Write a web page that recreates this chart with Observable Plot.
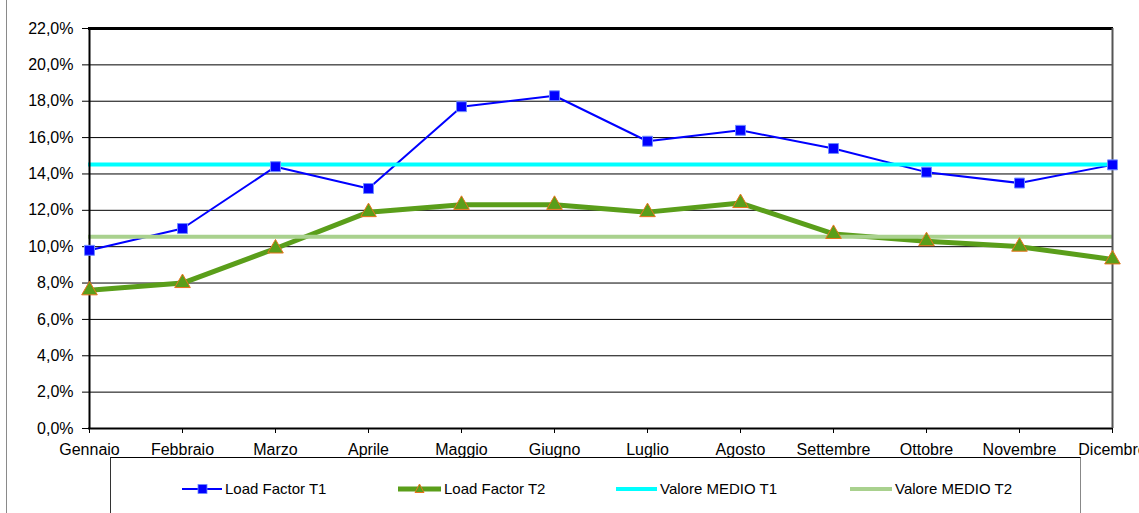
<!DOCTYPE html>
<html>
<head>
<meta charset="utf-8">
<script src="https://cdn.jsdelivr.net/npm/d3@7"></script>
<script src="https://cdn.jsdelivr.net/npm/@observablehq/plot@0.6"></script>
<style>
  html, body { margin: 0; padding: 0; background: #fff; overflow: hidden; }
  body { width: 1139px; height: 513px; position: relative; font-family: "Liberation Sans", Arial, sans-serif; }
  #outer-line { position: absolute; left: 6px; top: 0; width: 1px; height: 513px; background: #8a8a8a; }
  #chart { position: absolute; left: 0; top: 0; }
  #legend { position: absolute; left: 110px; top: 457px; width: 969px; height: 80px;
            border-top: 1px solid #000; border-left: 1px solid #333; border-right: 1px solid #888; }
  .item { position: absolute; top: 22px; height: 17px; display: flex; align-items: center;
          font-size: 15px; color: #000; white-space: nowrap; }
  .item svg { display: block; margin-right: 3px; }
</style>
</head>
<body>
<div id="outer-line"></div>
<div id="chart"></div>
<div id="legend"></div>
<script>
const months = ["Gennaio","Febbraio","Marzo","Aprile","Maggio","Giugno","Luglio","Agosto","Settembre","Ottobre","Novembre","Dicembre"];
const loadT1 = [9.8, 11.0, 14.4, 13.2, 17.7, 18.3, 15.8, 16.4, 15.4, 14.1, 13.5, 14.5];
const loadT2 = [7.6, 8.0, 9.9, 11.9, 12.3, 12.3, 11.9, 12.4, 10.7, 10.3, 10.0, 9.3];
const meanT1 = [14.52];
const meanT2 = [10.54];
const yTicks = [0, 2, 4, 6, 8, 10, 12, 14, 16, 18, 20, 22];
const seriesNames = ["Load Factor T1", "Load Factor T2", "Valore MEDIO T1", "Valore MEDIO T2"];

const t1Data = months.map((m, i) => ({month: m, value: loadT1[i]}));
const t2Data = months.map((m, i) => ({month: m, value: loadT2[i]}));
const fmt = d => d.toFixed(1).replace(".", ",") + "%";

const C = {t1: "#0000ff", t1Edge: "#6f8cff", t2: "#5a9e1a", t2Edge: "#e8741c", m1: "#00ffff", m2: "#a9d18e"};

const chart = Plot.plot({
  width: 1139,
  height: 456,
  marginLeft: 88,
  marginRight: 26,
  marginTop: 28,
  marginBottom: 28,
  style: {fontFamily: "'Liberation Sans', Arial, sans-serif", fontSize: "16px", color: "#000", background: "transparent", overflow: "visible"},
  x: {type: "point", domain: months, padding: 0, label: null},
  y: {domain: [0, 22], label: null},
  marks: [
    Plot.ruleY(yTicks.slice(1, -1), {stroke: "#000", strokeWidth: 1}),
    Plot.axisY({ticks: yTicks, tickSize: 6, tickPadding: 9, tickFormat: fmt, label: null, fontSize: 16}),
    Plot.axisX({tickSize: 5, tickPadding: 10, label: null, fontSize: 16}),
    Plot.lineY(t1Data, {x: "month", y: "value", stroke: C.t1, strokeWidth: 2}),
    Plot.lineY(t2Data, {x: "month", y: "value", stroke: C.t2, strokeWidth: 5}),
    Plot.ruleY(meanT1, {stroke: C.m1, strokeWidth: 4}),
    Plot.ruleY(meanT2, {stroke: C.m2, strokeWidth: 4}),
    Plot.ruleY([0], {stroke: "#000", strokeWidth: 2}),
    Plot.ruleY([22], {stroke: "#000", strokeWidth: 3}),
    Plot.ruleX([months[0]], {stroke: "#000", strokeWidth: 2}),
    Plot.ruleX([months[months.length - 1]], {stroke: "#555", strokeWidth: 2}),
    Plot.dot(t1Data, {x: "month", y: "value", symbol: "square", r: 5.6, fill: C.t1, stroke: C.t1Edge, strokeWidth: 1}),
    Plot.dot(t2Data, {x: "month", y: "value", symbol: "triangle", r: 5.8, fill: C.t2, stroke: C.t2Edge, strokeWidth: 1})
  ]
});
document.getElementById("chart").appendChild(chart);

// Legend (HTML, below the plot)
const legend = document.getElementById("legend");
const itemLeft = [71, 287, 505, 739];
const swatch = [
  `<svg width="40" height="12"><line x1="0" y1="6" x2="40" y2="6" stroke="${C.t1}" stroke-width="2"/><rect x="16" y="1.5" width="9" height="9" fill="${C.t1}" stroke="${C.t1Edge}" stroke-width="0.8"/></svg>`,
  `<svg width="43" height="12"><line x1="0" y1="6" x2="43" y2="6" stroke="${C.t2}" stroke-width="5"/><path d="M21.5,1 L26,9.5 L17,9.5 Z" fill="${C.t2}" stroke="${C.t2Edge}" stroke-width="1"/></svg>`,
  `<svg width="41" height="12"><line x1="0" y1="6" x2="41" y2="6" stroke="${C.m1}" stroke-width="4"/></svg>`,
  `<svg width="42" height="12"><line x1="0" y1="6" x2="42" y2="6" stroke="${C.m2}" stroke-width="4"/></svg>`
];
seriesNames.forEach((name, i) => {
  const d = document.createElement("div");
  d.className = "item";
  d.style.left = itemLeft[i] + "px";
  d.innerHTML = swatch[i] + `<span>${name}</span>`;
  legend.appendChild(d);
});
</script>
</body>
</html>
